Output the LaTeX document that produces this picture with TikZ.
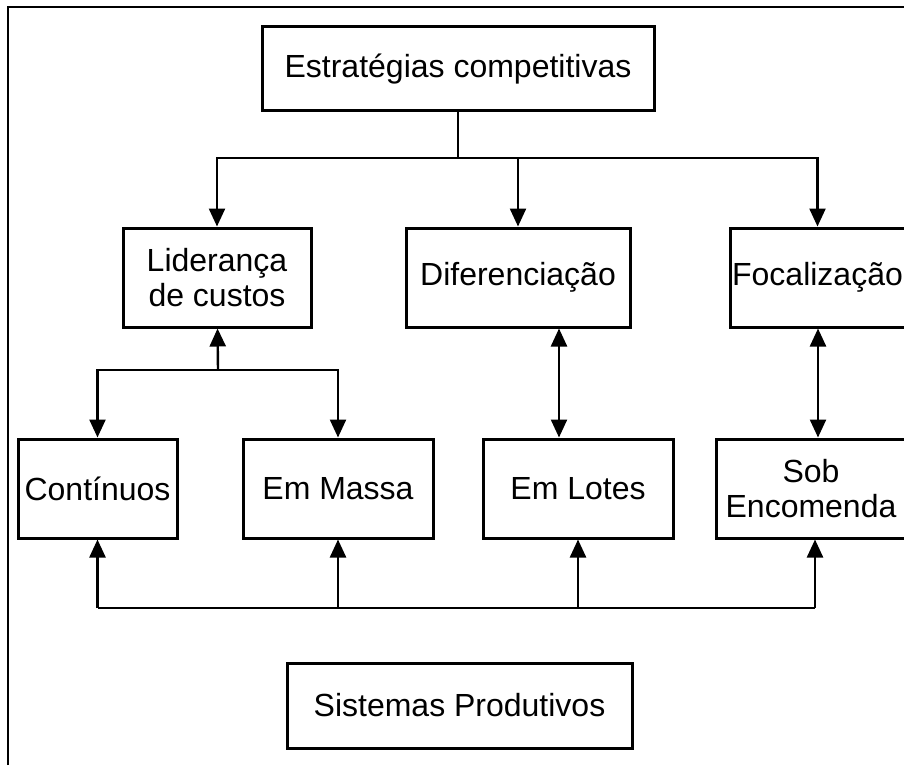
\documentclass[tikz,border=0pt]{standalone}
\usepackage{fontspec}
\setmainfont{Liberation Sans}
\usetikzlibrary{arrows.meta}

\begin{document}
\begin{tikzpicture}[x=0.5pt,y=-0.5pt,line width=1.2pt,
                    >={Triangle[length=9pt,width=8pt]},
                    box/.style={draw,line width=1.5pt,minimum height=49.5pt,
                                inner sep=0.5pt,align=center,
                                font=\fontsize{16}{17.5}\selectfont}]

  \useasboundingbox (0,0) rectangle (904,765);
  \draw[line width=1.3pt] (8,765) -- (8,7) -- (904,7);

  \node[box,minimum width=196pt,minimum height=42pt]   (est) at (458,69)      {Estratégias competitivas};
  \node[box,minimum width=94pt]                        (lid) at (217,277.5)   {Liderança\\de custos};
  \node[box,minimum width=112pt]                       (dif) at (518,277.5)   {Diferenciação};
  \node[box,minimum width=87.5pt]                      (foc) at (817.5,277.5) {Focalização};
  \node[box,minimum width=79.5pt]                      (con) at (97.5,488.5)  {Contínuos};
  \node[box,minimum width=95pt]                        (mas) at (338,488.5)   {Em Massa};
  \node[box,minimum width=95pt]                        (lot) at (578,488.5)   {Em Lotes};
  \node[box,minimum width=95pt]                        (sob) at (811,488.5)   {Sob\\Encomenda};
  \node[box,minimum width=172.5pt,minimum height=42.5pt] (sis) at (459.5,705.5) {Sistemas Produtivos};

  \coordinate (split) at (458,158);
  \coordinate (lsplit) at (218,370);
  \coordinate (dd) at (559,0);
  \coordinate (ff) at (818,0);
  \coordinate (bus) at (0,608);

  \draw (est) -- (split);
  \draw[->] (split) -| (lid);
  \draw[->] (split) -| (dif);
  \draw[->] (split) -| (foc);

  \draw[->] (lsplit) -- (lid);
  \draw[->] (lsplit) -| (con);
  \draw[->] (lsplit) -| (mas);

  \draw[<->] (dif.south -| dd) -- (lot.north -| dd);
  \draw[<->] (foc.south -| ff) -- (sob.north -| ff);

  \draw (con |- bus) -- ([xshift=2pt]sob.south |- bus);
  \draw[->] (con |- bus) -- (con);
  \draw[->] (mas |- bus) -- (mas);
  \draw[->] (lot |- bus) -- (lot);
  \draw[->] ([xshift=2pt]sob.south |- bus) -- ([xshift=2pt]sob.south);
\end{tikzpicture}
\end{document}
